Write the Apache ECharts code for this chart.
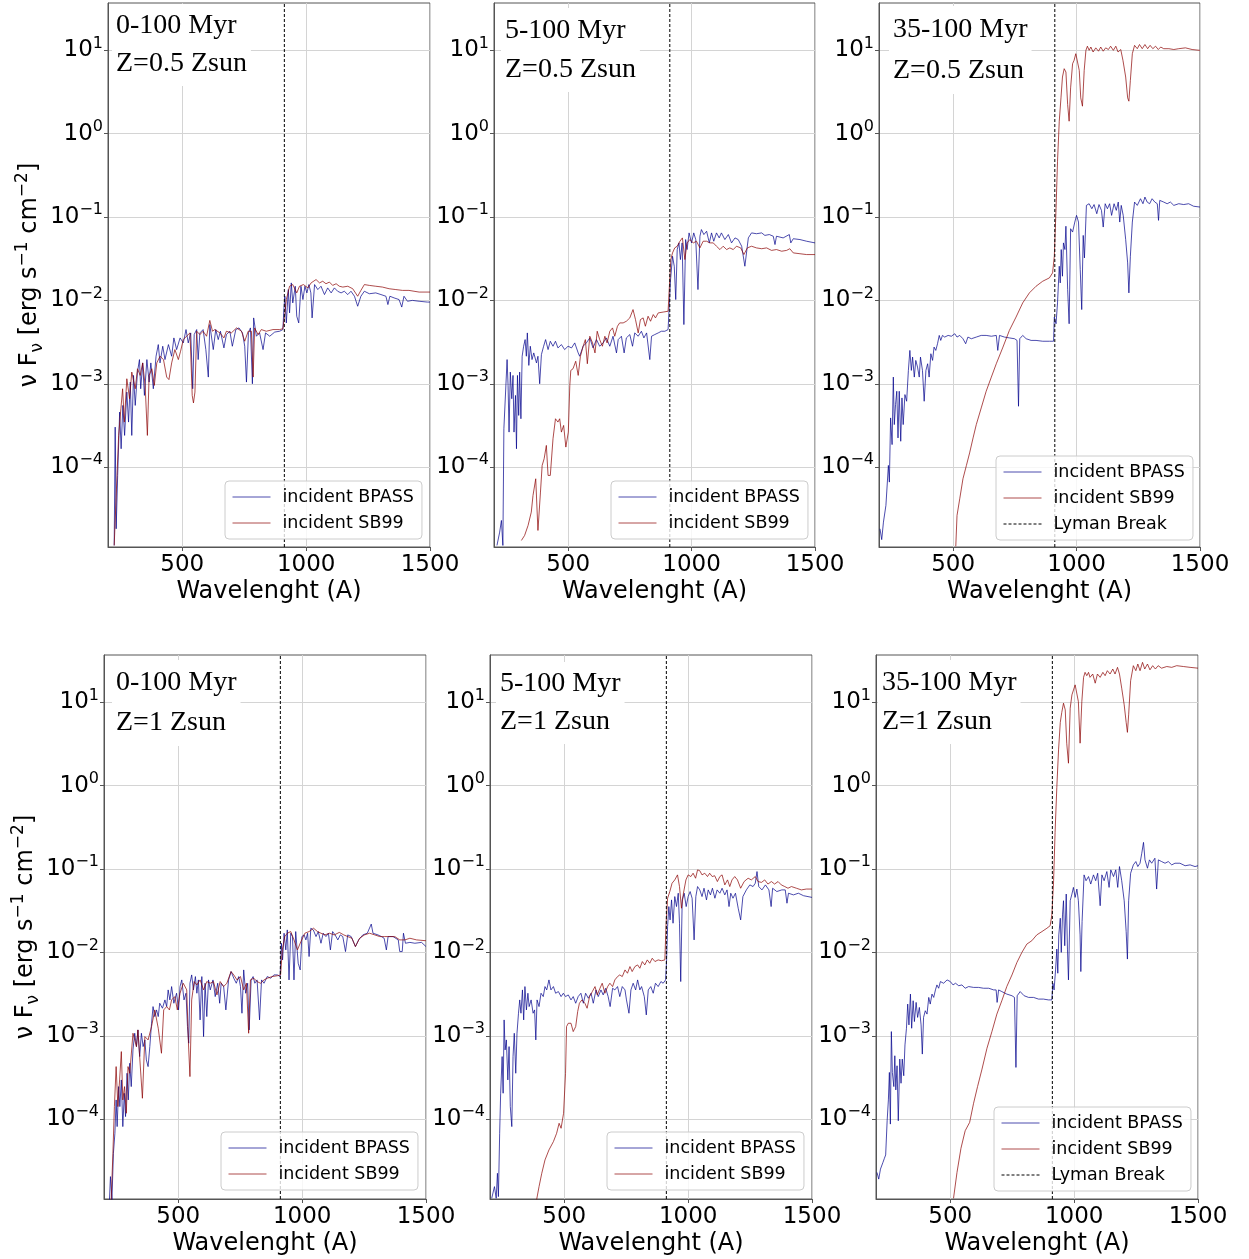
<!DOCTYPE html>
<html>
<head>
<meta charset="utf-8">
<script src="https://cdn.jsdelivr.net/npm/echarts@6/dist/echarts.min.js"></script>
<style>
  html, body { margin: 0; padding: 0; background: #fff; }
  #chart { width: 1249px; height: 1259px; }
</style>
</head>
<body>
<div id="chart"></div>
<script>
// Incident spectra, nu*F_nu, stored as [wavelength (A), log10 nu F_nu (erg s^-1 cm^-2)]

// 0-100 Myr, Z = 0.5 Zsun
const bpass_0_100_Z05 = [[225,-4.94],[229,-3.52],[233,-4.74],[239,-4.10],[247,-3.34],[253,-3.78],[260,-3.26],[267,-3.62],[276,-3.10],[283,-3.46],[290,-2.98],[296,-3.62],[303,-2.90],[310,-3.26],[319,-2.86],[327,-2.71],[332,-3.06],[340,-2.75],[347,-3.14],[357,-2.71],[366,-2.98],[373,-2.75],[383,-3.06],[394,-2.67],[403,-2.53],[410,-2.75],[421,-2.55],[430,-2.71],[444,-2.53],[457,-2.67],[466,-2.45],[477,-2.59],[491,-2.45],[504,-2.51],[515,-2.35],[524,-2.51],[534,-2.39],[542,-3.06],[548,-2.41],[558,-2.35],[564,-2.71],[571,-2.39],[584,-2.35],[595,-2.59],[605,-2.92],[611,-2.29],[625,-2.59],[635,-2.35],[645,-2.47],[654,-2.37],[668,-2.57],[678,-2.41],[692,-2.37],[702,-2.55],[716,-2.35],[729,-2.33],[743,-2.39],[752,-2.55],[759,-2.98],[767,-2.39],[775,-2.33],[783,-3.00],[788,-2.21],[799,-2.43],[812,-2.39],[826,-2.59],[836,-2.39],[853,-2.43],[873,-2.38],[893,-2.37],[906,-2.35],[910,-2.11],[914,-1.95],[920,-2.27],[928,-1.87],[933,-2.15],[940,-1.79],[946,-2.03],[956,-1.83],[962,-2.19],[970,-2.27],[979,-1.83],[987,-1.99],[995,-1.83],[1003,-1.91],[1011,-1.81],[1019,-1.91],[1024,-2.21],[1034,-1.81],[1047,-1.87],[1060,-1.83],[1074,-1.93],[1087,-1.85],[1101,-1.91],[1114,-1.85],[1127,-1.89],[1141,-1.91],[1154,-1.89],[1168,-1.93],[1181,-1.89],[1195,-1.95],[1208,-2.07],[1221,-1.95],[1235,-1.89],[1255,-1.92],[1281,-1.91],[1302,-1.93],[1322,-1.95],[1330,-2.05],[1338,-1.95],[1355,-1.97],[1375,-1.99],[1386,-2.08],[1395,-1.95],[1409,-2.01],[1429,-2.00],[1456,-2.01],[1489,-2.02],[1500,-2.02]];
const sb99_0_100_Z05 = [[225,-4.94],[232,-4.42],[243,-3.62],[252,-3.30],[259,-3.06],[266,-3.46],[276,-2.94],[287,-3.18],[296,-2.86],[310,-3.06],[319,-2.82],[330,-2.90],[340,-2.75],[350,-3.02],[359,-3.62],[366,-2.90],[377,-2.82],[387,-3.02],[397,-2.75],[410,-2.67],[424,-2.71],[437,-2.92],[446,-2.95],[457,-2.75],[470,-2.59],[484,-2.71],[493,-2.61],[504,-2.47],[517,-2.43],[531,-2.39],[540,-3.14],[545,-3.23],[551,-3.10],[558,-2.37],[571,-2.41],[584,-2.37],[598,-2.43],[611,-2.24],[622,-2.37],[631,-2.35],[652,-2.39],[668,-2.45],[678,-2.37],[698,-2.39],[719,-2.33],[739,-2.37],[752,-2.49],[766,-2.37],[779,-2.37],[786,-2.92],[792,-2.33],[806,-2.41],[819,-2.35],[839,-2.37],[866,-2.35],[893,-2.35],[906,-2.34],[913,-2.19],[920,-1.99],[933,-1.83],[946,-1.81],[962,-1.91],[973,-1.83],[989,-1.81],[1007,-1.85],[1020,-1.79],[1040,-1.75],[1054,-1.79],[1067,-1.77],[1080,-1.80],[1094,-1.78],[1107,-1.82],[1121,-1.80],[1134,-1.83],[1148,-1.84],[1168,-1.83],[1188,-1.86],[1208,-1.95],[1221,-1.88],[1235,-1.81],[1255,-1.82],[1281,-1.83],[1308,-1.84],[1335,-1.86],[1362,-1.87],[1389,-1.88],[1415,-1.88],[1456,-1.90],[1500,-1.90]];

// 5-100 Myr, Z = 0.5 Zsun
const bpass_5_100_Z05 = [[212,-4.94],[223,-4.78],[230,-4.64],[236,-4.94],[240,-3.54],[245,-3.54],[253,-2.71],[257,-3.02],[261,-3.58],[266,-2.86],[272,-3.18],[277,-2.90],[281,-3.58],[287,-3.14],[291,-3.78],[295,-2.90],[300,-3.38],[304,-2.86],[309,-3.42],[314,-2.67],[320,-2.55],[326,-2.47],[331,-2.67],[335,-2.39],[341,-2.78],[347,-2.55],[354,-2.71],[361,-2.63],[372,-2.75],[378,-2.67],[385,-3.00],[392,-2.65],[401,-2.55],[409,-2.47],[419,-2.59],[428,-2.49],[439,-2.55],[449,-2.49],[459,-2.57],[473,-2.53],[486,-2.59],[500,-2.55],[514,-2.57],[527,-2.51],[541,-2.63],[547,-2.67],[561,-2.55],[574,-2.51],[588,-2.45],[601,-2.57],[615,-2.47],[628,-2.55],[642,-2.51],[655,-2.45],[669,-2.55],[682,-2.43],[696,-2.63],[703,-2.47],[716,-2.43],[727,-2.63],[736,-2.45],[750,-2.41],[761,-2.55],[770,-2.39],[784,-2.43],[797,-2.37],[807,-2.45],[818,-2.39],[831,-2.71],[838,-2.43],[851,-2.41],[865,-2.39],[878,-2.37],[892,-2.37],[905,-2.35],[912,-2.33],[915,-1.75],[923,-1.47],[930,-1.59],[936,-1.99],[942,-1.39],[949,-1.31],[955,-1.51],[962,-1.31],[969,-2.29],[976,-1.27],[982,-1.39],[990,-1.19],[1000,-1.31],[1009,-1.19],[1017,-1.27],[1026,-1.87],[1034,-1.23],[1040,-1.15],[1050,-1.21],[1061,-1.17],[1072,-1.31],[1081,-1.19],[1090,-1.29],[1101,-1.19],[1112,-1.25],[1121,-1.19],[1135,-1.27],[1149,-1.21],[1162,-1.31],[1176,-1.25],[1189,-1.27],[1203,-1.35],[1216,-1.59],[1230,-1.25],[1243,-1.19],[1263,-1.20],[1284,-1.19],[1297,-1.22],[1315,-1.21],[1331,-1.23],[1338,-1.33],[1344,-1.23],[1371,-1.25],[1396,-1.21],[1402,-1.31],[1412,-1.26],[1439,-1.27],[1466,-1.29],[1500,-1.31]];
const sb99_5_100_Z05 = [[311,-4.88],[324,-4.82],[338,-4.70],[351,-4.54],[358,-4.34],[369,-4.14],[378,-4.76],[388,-4.31],[395,-3.98],[403,-3.90],[412,-3.74],[419,-4.10],[428,-4.10],[439,-3.66],[449,-3.42],[459,-3.46],[466,-3.42],[473,-3.58],[482,-3.50],[491,-3.76],[501,-3.58],[507,-3.02],[511,-2.84],[520,-2.82],[531,-2.73],[541,-2.90],[550,-2.67],[561,-2.55],[570,-2.47],[578,-2.76],[588,-2.43],[599,-2.51],[609,-2.63],[618,-2.37],[628,-2.47],[639,-2.55],[649,-2.43],[658,-2.51],[669,-2.37],[680,-2.33],[689,-2.43],[700,-2.31],[709,-2.27],[723,-2.27],[736,-2.25],[750,-2.21],[763,-2.11],[773,-2.23],[784,-2.39],[793,-2.23],[804,-2.21],[813,-2.31],[824,-2.19],[834,-2.25],[845,-2.17],[854,-2.21],[865,-2.15],[885,-2.14],[905,-2.13],[912,-2.11],[916,-1.51],[923,-1.43],[932,-1.37],[942,-1.35],[953,-1.29],[963,-1.25],[973,-1.51],[982,-1.31],[993,-1.27],[1007,-1.31],[1020,-1.29],[1034,-1.37],[1047,-1.29],[1061,-1.29],[1074,-1.31],[1088,-1.31],[1101,-1.35],[1115,-1.39],[1128,-1.35],[1142,-1.39],[1155,-1.37],[1169,-1.39],[1182,-1.35],[1199,-1.37],[1212,-1.45],[1226,-1.37],[1243,-1.35],[1263,-1.37],[1284,-1.38],[1304,-1.37],[1324,-1.40],[1344,-1.39],[1365,-1.41],[1385,-1.40],[1398,-1.38],[1412,-1.43],[1439,-1.44],[1466,-1.45],[1500,-1.45]];

// 35-100 Myr, Z = 0.5 Zsun
const bpass_35_100_Z05 = [[204,-4.74],[211,-4.87],[218,-4.66],[228,-4.46],[234,-4.46],[238,-3.98],[242,-4.18],[247,-3.41],[253,-3.73],[258,-2.92],[262,-3.49],[267,-3.25],[272,-3.09],[277,-3.65],[282,-3.09],[288,-3.69],[293,-3.17],[298,-3.49],[305,-3.13],[312,-3.21],[319,-2.84],[325,-2.60],[331,-2.84],[336,-2.68],[343,-2.92],[349,-2.72],[356,-2.80],[363,-2.92],[368,-2.68],[376,-2.84],[383,-3.21],[390,-2.84],[397,-2.76],[403,-2.92],[410,-2.64],[417,-2.72],[423,-2.56],[430,-2.60],[437,-2.52],[444,-2.42],[450,-2.48],[457,-2.42],[466,-2.44],[480,-2.42],[493,-2.43],[507,-2.40],[516,-2.44],[527,-2.42],[540,-2.46],[551,-2.52],[560,-2.44],[574,-2.46],[594,-2.44],[614,-2.42],[634,-2.42],[655,-2.43],[675,-2.42],[681,-2.60],[688,-2.42],[708,-2.44],[728,-2.45],[749,-2.46],[759,-2.48],[765,-3.27],[770,-2.46],[782,-2.42],[796,-2.46],[816,-2.48],[836,-2.48],[863,-2.49],[890,-2.49],[907,-2.49],[910,-2.20],[917,-2.28],[923,-2.03],[930,-1.59],[934,-1.79],[938,-1.39],[943,-1.71],[947,-1.31],[953,-1.39],[957,-1.11],[964,-1.87],[970,-2.28],[976,-1.14],[984,-1.18],[993,-1.06],[1000,-0.98],[1008,-1.06],[1015,-1.63],[1021,-2.11],[1027,-1.22],[1032,-1.49],[1040,-0.86],[1051,-0.84],[1062,-0.90],[1071,-0.85],[1082,-0.96],[1091,-0.85],[1101,-0.92],[1108,-1.12],[1116,-0.84],[1125,-0.90],[1134,-0.84],[1142,-0.98],[1152,-0.84],[1161,-0.92],[1169,-0.82],[1175,-1.06],[1181,-0.86],[1189,-0.98],[1199,-1.27],[1207,-1.55],[1212,-1.91],[1218,-1.47],[1226,-1.06],[1235,-0.82],[1246,-0.86],[1259,-0.78],[1269,-0.84],[1277,-0.76],[1286,-0.82],[1296,-0.84],[1306,-0.78],[1317,-0.82],[1327,-0.84],[1332,-1.04],[1337,-0.80],[1353,-0.82],[1367,-0.84],[1380,-0.82],[1394,-0.86],[1414,-0.84],[1434,-0.85],[1454,-0.84],[1474,-0.87],[1500,-0.88]];
const sb99_35_100_Z05 = [[511,-4.95],[516,-4.58],[527,-4.38],[540,-4.14],[554,-3.98],[567,-3.83],[581,-3.65],[594,-3.49],[614,-3.29],[634,-3.09],[655,-2.92],[675,-2.76],[702,-2.56],[728,-2.36],[755,-2.20],[782,-2.03],[809,-1.91],[836,-1.83],[863,-1.77],[890,-1.73],[903,-1.67],[910,-1.47],[917,-0.90],[923,-0.33],[930,0.15],[937,0.43],[943,0.68],[950,0.78],[957,0.74],[964,0.35],[970,0.15],[976,0.55],[984,0.84],[990,0.88],[997,0.96],[1004,0.97],[1011,0.76],[1017,0.43],[1024,0.33],[1031,0.76],[1038,1.00],[1044,1.05],[1051,1.00],[1058,1.04],[1067,0.98],[1078,1.03],[1089,0.99],[1098,1.04],[1108,0.99],[1118,1.03],[1129,1.01],[1138,1.05],[1149,1.00],[1159,1.05],[1168,0.98],[1179,1.01],[1188,0.88],[1199,0.68],[1207,0.43],[1212,0.39],[1218,0.64],[1226,0.96],[1235,1.06],[1246,1.02],[1255,1.07],[1266,1.02],[1277,1.07],[1288,1.02],[1298,1.06],[1309,1.02],[1320,1.05],[1331,1.01],[1341,1.04],[1353,1.02],[1374,1.02],[1394,1.01],[1414,1.02],[1441,1.03],[1468,1.01],[1500,1.00]];

// 0-100 Myr, Z = 1 Zsun
const bpass_0_100_Z1 = [[222,-4.97],[226,-4.69],[232,-4.97],[238,-4.41],[244,-4.17],[249,-3.77],[253,-4.09],[259,-3.61],[264,-3.85],[270,-3.53],[276,-4.09],[282,-3.69],[287,-3.97],[293,-3.45],[298,-3.77],[304,-3.33],[310,-3.61],[317,-3.17],[324,-2.97],[331,-3.13],[337,-2.93],[344,-3.25],[351,-2.97],[358,-3.13],[365,-3.05],[371,-3.29],[378,-3.37],[385,-3.13],[392,-2.85],[398,-2.65],[405,-2.77],[412,-2.69],[419,-2.77],[425,-2.61],[436,-2.67],[446,-2.57],[453,-2.65],[459,-2.45],[466,-2.57],[473,-2.41],[482,-2.61],[493,-2.49],[501,-2.69],[507,-2.41],[514,-2.33],[523,-2.57],[531,-2.49],[537,-2.89],[542,-3.09],[547,-2.37],[554,-2.27],[561,-2.45],[569,-2.29],[575,-2.49],[581,-2.33],[588,-2.81],[595,-2.29],[602,-3.01],[608,-2.37],[615,-2.77],[622,-2.33],[629,-2.45],[640,-2.33],[649,-2.53],[659,-2.37],[667,-2.61],[673,-2.37],[683,-2.41],[692,-2.69],[703,-2.33],[713,-2.23],[724,-2.31],[734,-2.37],[744,-2.29],[751,-2.41],[757,-2.73],[764,-2.21],[772,-2.49],[780,-2.37],[786,-2.93],[794,-2.33],[802,-2.29],[809,-2.37],[818,-2.33],[828,-2.81],[836,-2.33],[846,-2.37],[859,-2.29],[873,-2.31],[886,-2.27],[900,-2.27],[911,-2.29],[916,-1.89],[921,-2.09],[927,-1.77],[934,-1.97],[940,-1.73],[947,-2.33],[954,-1.77],[961,-1.81],[967,-2.33],[974,-1.75],[984,-2.13],[992,-2.21],[999,-1.81],[1008,-1.79],[1015,-1.85],[1022,-1.77],[1028,-2.05],[1035,-1.71],[1045,-1.73],[1056,-1.81],[1065,-1.75],[1076,-1.89],[1085,-1.77],[1096,-1.81],[1106,-1.77],[1114,-1.97],[1123,-1.75],[1133,-1.79],[1144,-1.85],[1154,-1.79],[1164,-1.81],[1175,-1.99],[1184,-1.79],[1198,-1.81],[1215,-1.93],[1228,-1.85],[1245,-1.79],[1263,-1.77],[1279,-1.66],[1286,-1.77],[1306,-1.79],[1320,-1.81],[1331,-1.83],[1340,-1.97],[1347,-1.81],[1367,-1.81],[1388,-1.85],[1394,-1.99],[1404,-1.99],[1409,-1.77],[1417,-1.89],[1435,-1.88],[1455,-1.89],[1482,-1.88],[1500,-1.93]];
const sb99_0_100_Z1 = [[229,-4.97],[236,-4.41],[242,-3.85],[249,-3.37],[256,-3.85],[263,-3.53],[270,-3.19],[276,-3.77],[283,-3.61],[290,-3.93],[297,-3.37],[304,-3.45],[317,-2.97],[324,-2.97],[331,-3.13],[337,-2.93],[344,-3.25],[355,-3.75],[365,-3.01],[378,-3.05],[392,-2.89],[405,-2.69],[419,-2.91],[432,-3.21],[441,-2.69],[453,-2.65],[464,-2.69],[473,-2.57],[486,-2.53],[496,-2.69],[507,-2.49],[520,-2.37],[534,-2.45],[541,-3.09],[547,-3.49],[554,-2.57],[564,-2.35],[575,-2.39],[588,-2.33],[602,-2.45],[615,-2.35],[629,-2.37],[642,-2.35],[656,-2.51],[669,-2.35],[683,-2.41],[696,-2.37],[713,-2.23],[724,-2.27],[737,-2.33],[751,-2.29],[764,-2.45],[775,-2.37],[784,-2.97],[791,-2.33],[805,-2.31],[818,-2.35],[832,-2.37],[846,-2.33],[859,-2.31],[879,-2.29],[900,-2.28],[913,-2.27],[920,-1.97],[930,-1.81],[940,-1.77],[954,-1.75],[967,-1.85],[981,-1.97],[995,-1.87],[1011,-1.77],[1028,-1.75],[1046,-1.71],[1062,-1.75],[1076,-1.77],[1092,-1.79],[1110,-1.77],[1130,-1.79],[1150,-1.76],[1168,-1.79],[1184,-1.81],[1201,-1.83],[1215,-1.93],[1232,-1.83],[1252,-1.79],[1272,-1.77],[1293,-1.79],[1313,-1.81],[1333,-1.81],[1354,-1.81],[1374,-1.81],[1394,-1.85],[1415,-1.85],[1435,-1.83],[1462,-1.85],[1500,-1.86]];

// 5-100 Myr, Z = 1 Zsun
const bpass_5_100_Z1 = [[207,-4.95],[218,-4.81],[225,-4.95],[230,-4.65],[234,-4.93],[239,-4.17],[243,-3.69],[249,-3.25],[253,-3.69],[257,-2.81],[261,-3.17],[266,-3.05],[272,-3.53],[277,-3.13],[282,-3.85],[288,-4.09],[293,-3.25],[298,-2.97],[304,-3.45],[309,-2.97],[315,-2.73],[320,-2.57],[325,-2.73],[331,-2.45],[336,-2.81],[341,-2.41],[347,-2.69],[353,-2.49],[358,-2.65],[366,-2.57],[374,-2.73],[380,-2.69],[385,-3.05],[390,-2.57],[398,-2.65],[406,-2.49],[415,-2.53],[422,-2.41],[429,-2.45],[438,-2.33],[446,-2.45],[456,-2.41],[465,-2.49],[476,-2.47],[487,-2.53],[496,-2.49],[505,-2.53],[516,-2.51],[527,-2.57],[536,-2.53],[546,-2.61],[556,-2.53],[567,-2.49],[577,-2.61],[586,-2.49],[597,-2.55],[608,-2.49],[617,-2.61],[628,-2.45],[637,-2.53],[648,-2.45],[657,-2.51],[667,-2.43],[677,-2.53],[685,-2.65],[695,-2.43],[704,-2.45],[715,-2.41],[724,-2.53],[734,-2.41],[745,-2.45],[751,-2.57],[761,-2.73],[769,-2.45],[778,-2.37],[788,-2.45],[796,-2.33],[805,-2.45],[812,-2.41],[823,-2.53],[831,-2.75],[839,-2.45],[849,-2.41],[859,-2.49],[868,-2.37],[879,-2.41],[890,-2.35],[899,-2.37],[909,-2.33],[913,-2.09],[917,-1.69],[922,-1.45],[927,-1.61],[933,-1.37],[939,-1.65],[946,-1.33],[953,-1.45],[960,-1.29],[965,-1.65],[970,-2.35],[976,-1.37],[984,-1.29],[992,-1.45],[1000,-1.33],[1008,-1.27],[1016,-1.35],[1024,-1.85],[1031,-1.33],[1038,-1.21],[1047,-1.25],[1056,-1.33],[1064,-1.23],[1074,-1.37],[1081,-1.25],[1090,-1.31],[1098,-1.23],[1108,-1.35],[1117,-1.25],[1128,-1.29],[1137,-1.23],[1148,-1.31],[1157,-1.25],[1165,-1.45],[1172,-1.29],[1181,-1.35],[1191,-1.29],[1202,-1.47],[1212,-1.61],[1221,-1.33],[1235,-1.25],[1249,-1.19],[1262,-1.21],[1271,-1.17],[1278,-1.03],[1285,-1.21],[1298,-1.25],[1312,-1.19],[1326,-1.25],[1335,-1.45],[1341,-1.23],[1358,-1.27],[1378,-1.25],[1392,-1.25],[1399,-1.41],[1405,-1.29],[1425,-1.31],[1445,-1.29],[1466,-1.32],[1500,-1.34]];
const sb99_5_100_Z1 = [[388,-4.97],[398,-4.81],[409,-4.65],[422,-4.49],[438,-4.37],[456,-4.27],[469,-4.17],[479,-4.05],[487,-4.11],[497,-3.93],[505,-3.45],[509,-2.89],[516,-2.85],[527,-2.85],[536,-2.95],[546,-2.89],[554,-2.71],[561,-2.61],[571,-2.57],[583,-2.61],[592,-2.67],[602,-2.53],[613,-2.47],[624,-2.41],[633,-2.51],[644,-2.43],[653,-2.37],[664,-2.49],[675,-2.41],[684,-2.37],[695,-2.41],[704,-2.33],[715,-2.29],[724,-2.27],[734,-2.29],[745,-2.21],[755,-2.25],[765,-2.17],[774,-2.23],[785,-2.17],[796,-2.15],[805,-2.19],[815,-2.11],[825,-2.15],[835,-2.09],[845,-2.13],[855,-2.07],[866,-2.11],[879,-2.09],[892,-2.10],[906,-2.09],[911,-1.65],[917,-1.35],[926,-1.27],[935,-1.17],[946,-1.13],[957,-1.07],[965,-1.21],[973,-1.47],[981,-1.29],[991,-1.13],[1000,-1.07],[1011,-1.09],[1020,-1.05],[1030,-1.11],[1038,-1.01],[1047,-1.02],[1056,-1.07],[1067,-1.05],[1078,-1.09],[1087,-1.05],[1097,-1.09],[1107,-1.08],[1118,-1.15],[1128,-1.09],[1137,-1.07],[1148,-1.19],[1159,-1.13],[1168,-1.21],[1177,-1.13],[1188,-1.09],[1199,-1.13],[1212,-1.23],[1226,-1.15],[1242,-1.11],[1255,-1.13],[1271,-1.09],[1282,-1.15],[1296,-1.16],[1309,-1.13],[1322,-1.18],[1336,-1.15],[1349,-1.18],[1363,-1.15],[1376,-1.19],[1390,-1.21],[1403,-1.23],[1417,-1.21],[1437,-1.23],[1457,-1.25],[1477,-1.24],[1500,-1.24]];

// 35-100 Myr, Z = 1 Zsun
const bpass_35_100_Z1 = [[204,-4.64],[211,-4.72],[218,-4.60],[228,-4.52],[234,-4.47],[239,-4.43],[245,-4.02],[250,-3.77],[254,-3.44],[258,-4.06],[262,-2.95],[266,-3.44],[272,-3.61],[276,-3.24],[280,-3.65],[285,-3.36],[290,-4.02],[296,-3.28],[301,-3.57],[306,-3.28],[312,-3.48],[317,-3.11],[323,-2.91],[328,-2.62],[333,-2.87],[339,-2.50],[344,-2.91],[350,-2.58],[355,-2.83],[362,-2.60],[368,-2.78],[375,-2.66],[382,-2.87],[387,-3.22],[392,-2.78],[399,-2.70],[406,-2.74],[413,-2.54],[419,-2.62],[426,-2.50],[433,-2.54],[440,-2.45],[446,-2.39],[453,-2.43],[460,-2.35],[473,-2.37],[487,-2.33],[500,-2.35],[511,-2.39],[521,-2.37],[534,-2.40],[547,-2.39],[560,-2.43],[574,-2.41],[594,-2.42],[614,-2.42],[634,-2.43],[655,-2.43],[675,-2.45],[685,-2.45],[689,-2.60],[695,-2.45],[708,-2.47],[728,-2.50],[749,-2.52],[759,-2.54],[765,-3.38],[770,-2.52],[782,-2.47],[798,-2.52],[816,-2.54],[836,-2.54],[856,-2.56],[876,-2.56],[896,-2.57],[910,-2.57],[914,-2.37],[919,-2.45],[925,-2.21],[930,-1.96],[934,-2.25],[938,-1.79],[944,-1.59],[948,-2.00],[953,-1.55],[957,-1.38],[962,-1.92],[968,-1.30],[973,-1.96],[977,-2.33],[984,-1.38],[991,-1.30],[997,-1.22],[1004,-1.34],[1011,-1.24],[1017,-1.38],[1024,-1.79],[1027,-2.23],[1032,-1.63],[1040,-1.07],[1048,-1.14],[1058,-1.09],[1067,-1.18],[1078,-1.07],[1087,-1.14],[1095,-1.05],[1105,-1.44],[1112,-1.07],[1121,-1.14],[1132,-1.03],[1141,-1.22],[1148,-1.01],[1159,-1.09],[1168,-1.01],[1176,-1.22],[1183,-0.97],[1192,-1.14],[1202,-1.38],[1210,-1.75],[1215,-2.08],[1220,-1.38],[1228,-1.05],[1239,-0.95],[1249,-0.91],[1257,-0.97],[1266,-0.93],[1273,-0.81],[1280,-0.68],[1286,-0.89],[1296,-0.99],[1304,-0.89],[1313,-0.93],[1326,-0.87],[1333,-1.24],[1340,-0.89],[1353,-0.91],[1367,-0.93],[1380,-0.91],[1394,-0.95],[1407,-0.93],[1427,-0.93],[1448,-0.96],[1468,-0.95],[1488,-0.97],[1500,-0.96]];
const sb99_35_100_Z1 = [[513,-4.95],[527,-4.64],[543,-4.35],[560,-4.14],[578,-4.04],[594,-3.81],[610,-3.61],[628,-3.40],[648,-3.15],[668,-2.95],[688,-2.74],[708,-2.58],[728,-2.41],[749,-2.27],[769,-2.12],[789,-2.00],[809,-1.90],[829,-1.86],[849,-1.79],[870,-1.75],[890,-1.71],[903,-1.68],[910,-1.55],[917,-1.14],[923,-0.56],[930,-0.02],[937,0.43],[944,0.76],[950,0.88],[957,0.99],[964,0.91],[970,0.51],[977,0.27],[984,0.93],[991,1.09],[997,1.09],[1004,1.21],[1011,1.23],[1017,1.01],[1024,0.51],[1031,1.01],[1038,1.30],[1044,1.36],[1051,1.32],[1058,1.36],[1064,1.30],[1075,1.34],[1085,1.23],[1094,1.34],[1105,1.30],[1116,1.36],[1125,1.32],[1134,1.38],[1145,1.34],[1156,1.40],[1165,1.34],[1175,1.42],[1183,1.34],[1192,1.17],[1202,0.97],[1210,0.76],[1215,0.64],[1220,0.85],[1228,1.26],[1239,1.44],[1249,1.38],[1257,1.46],[1266,1.38],[1276,1.48],[1285,1.40],[1296,1.46],[1306,1.39],[1317,1.44],[1328,1.40],[1339,1.44],[1353,1.41],[1374,1.43],[1394,1.42],[1414,1.44],[1441,1.43],[1468,1.42],[1500,1.41]];

const ageLabels = ['0-100 Myr', '5-100 Myr', '35-100 Myr'];
const metalLabels = ['Z=0.5 Zsun', 'Z=1 Zsun'];
const seriesNames = ['incident BPASS', 'incident SB99', 'Lyman Break'];
const xTickValues = [500, 1000, 1500];
const yTickValues = [1e-4, 1e-3, 1e-2, 1e-1, 1e0, 1e1];
const wavelengthRange = [200, 1500];
const fluxRange = [1.1e-5, 37];
const lymanBreak = 912;

// panel order: top row Z=0.5, bottom row Z=1; columns by age range
const panelSpectra = [
  [bpass_0_100_Z05, sb99_0_100_Z05],
  [bpass_5_100_Z05, sb99_5_100_Z05],
  [bpass_35_100_Z05, sb99_35_100_Z05],
  [bpass_0_100_Z1, sb99_0_100_Z1],
  [bpass_5_100_Z1, sb99_5_100_Z1],
  [bpass_35_100_Z1, sb99_35_100_Z1]
];

// ---- layout ----
const gridBoxes = [
  { left: 108, top: 3, width: 322, height: 544 },
  { left: 494, top: 3, width: 321, height: 544 },
  { left: 879, top: 3, width: 321, height: 544 },
  { left: 104, top: 655, width: 322, height: 544 },
  { left: 490, top: 655, width: 322, height: 544 },
  { left: 876, top: 655, width: 322, height: 544 }
];
const titleBoxes = [[112, 4], [501, 8], [889, 6], [112, 660], [496, 662], [878, 660]];
const titleLineHeights = [38, 39, 41, 40, 38, 39];
const legendBoxes = [[225, 481], [611, 481], [996, 456], [221, 1132], [607, 1132], [994, 1107]];

const BLUE = 'rgba(0,0,139,0.7)';
const RED = 'rgba(139,0,0,0.7)';
const SANS = 'DejaVu Sans';
const SERIF = 'Liberation Serif';
const FRAME = '#555';
const GRIDLINE = '#d4d4d4';

const toFlux = pts => pts.map(([w, d]) => [w, Math.pow(10, d)]);
const powerLabel = v => {
  const e = Math.round(Math.log10(v));
  return '{b|10}{s|' + String(e).replace('-', '\u2212') + '}';
};

const grids = [], xAxes = [], yAxes = [], series = [], titles = [], legends = [];

panelSpectra.forEach(([bpass, sb99], i) => {
  const row = Math.floor(i / 3), col = i % 3;
  grids.push(Object.assign({ show: true, borderColor: FRAME, borderWidth: 1, containLabel: false }, gridBoxes[i]));

  xAxes.push({
    type: 'value', gridIndex: i,
    min: wavelengthRange[0], max: wavelengthRange[1],
    name: 'Wavelenght (A)', nameLocation: 'middle', nameGap: 33,
    nameTextStyle: { fontFamily: SANS, fontSize: 24, color: '#000' },
    axisLine: { show: true, onZero: false, lineStyle: { color: FRAME, width: 1 } },
    axisTick: { show: true, length: 4, customValues: xTickValues, lineStyle: { color: FRAME } },
    axisLabel: {
      customValues: xTickValues, fontFamily: SANS, fontSize: 23, color: '#000', margin: 7,
      formatter: v => String(v)
    },
    splitLine: { show: true, lineStyle: { color: GRIDLINE, width: 1 } }
  });

  const yAxis = {
    type: 'log', logBase: 10, gridIndex: i,
    min: fluxRange[0], max: fluxRange[1],
    axisLine: { show: true, lineStyle: { color: FRAME, width: 1 } },
    axisTick: { show: true, length: 4, customValues: yTickValues, lineStyle: { color: FRAME } },
    axisLabel: {
      customValues: yTickValues, margin: 5, formatter: powerLabel,
      rich: {
        b: { fontFamily: SANS, fontSize: 23, lineHeight: 30, color: '#000' },
        s: { fontFamily: SANS, fontSize: 16, lineHeight: 16, verticalAlign: 'top', color: '#000' }
      }
    },
    splitLine: { show: true, lineStyle: { color: GRIDLINE, width: 1 } }
  };
  if (col === 0) {
    Object.assign(yAxis, {
      name: '{a|\u03bd F}{sub|\u03bd}{a| [erg s}{sup|\u22121}{a| cm}{sup|\u22122}{a|]}',
      nameLocation: 'middle', nameGap: 60,
      nameTextStyle: {
        rich: {
          a: { fontFamily: SANS, fontSize: 24, lineHeight: 32, color: '#000' },
          sub: { fontFamily: SANS, fontSize: 17, lineHeight: 17, verticalAlign: 'bottom', color: '#000' },
          sup: { fontFamily: SANS, fontSize: 17, lineHeight: 17, verticalAlign: 'top', color: '#000' }
        }
      }
    });
  }
  yAxes.push(yAxis);

  series.push({
    name: seriesNames[0], type: 'line', xAxisIndex: i, yAxisIndex: i,
    data: toFlux(bpass), symbol: 'none', clip: true,
    lineStyle: { color: BLUE, width: 1 }, itemStyle: { color: BLUE }
  });
  series.push({
    name: seriesNames[1], type: 'line', xAxisIndex: i, yAxisIndex: i,
    data: toFlux(sb99), symbol: 'none', clip: true,
    lineStyle: { color: RED, width: 1 }, itemStyle: { color: RED }
  });
  series.push({
    name: seriesNames[2], type: 'line', xAxisIndex: i, yAxisIndex: i,
    data: [[lymanBreak, fluxRange[0]], [lymanBreak, fluxRange[1]]], symbol: 'none', clip: true,
    lineStyle: { color: '#000', width: 1, type: [3, 2] }, itemStyle: { color: '#000' }
  });

  titles.push({
    text: ageLabels[col] + '\n' + metalLabels[row],
    left: titleBoxes[i][0], top: titleBoxes[i][1],
    padding: [3, 4, 3, 4], backgroundColor: '#fff',
    textStyle: { fontFamily: SERIF, fontSize: 28, fontWeight: 'normal', color: '#000', lineHeight: titleLineHeights[i] }
  });

  legends.push({
    left: legendBoxes[i][0], top: legendBoxes[i][1],
    orient: 'vertical',
    data: col === 2 ? seriesNames : seriesNames.slice(0, 2),
    itemWidth: 38, itemHeight: 14, itemGap: 8,
    padding: [7, 8, 7, 7],
    backgroundColor: 'rgba(255,255,255,0.8)',
    borderColor: '#cccccc', borderWidth: 1, borderRadius: 4,
    lineStyle: { width: 1 },
    itemStyle: { opacity: 0 },
    textStyle: { fontFamily: SANS, fontSize: 17.5, color: '#000', padding: [0, 0, 0, 7] },
    selectedMode: false
  });
});

const chart = echarts.init(document.getElementById('chart'), null, { renderer: 'canvas' });
chart.setOption({
  backgroundColor: '#fff',
  animation: false,
  title: titles,
  legend: legends,
  grid: grids,
  xAxis: xAxes,
  yAxis: yAxes,
  series: series
});
</script>
</body>
</html>
